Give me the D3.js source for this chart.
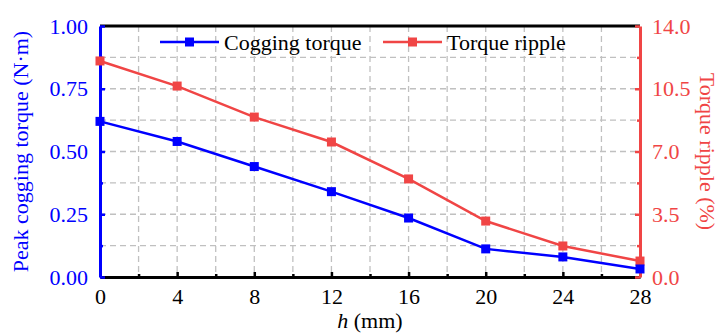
<!DOCTYPE html>
<html>
<head>
<meta charset="utf-8">
<script src="https://cdn.jsdelivr.net/npm/d3@7"></script>
<style>
  body { margin: 0; background: #fff; }
  svg text { font-family: "Liberation Serif", "DejaVu Serif", "Times New Roman", serif !important; }
</style>
</head>
<body>
<div id="chart"></div>
<script>
const hValues = [0, 4, 8, 12, 16, 20, 24, 28];
const coggingTorque = [0.62, 0.54, 0.44, 0.34, 0.235, 0.112, 0.08, 0.032];
const torqueRipple = [12.05, 10.65, 8.92, 7.53, 5.47, 3.12, 1.73, 0.89];
const leftTicks = [0, 0.25, 0.5, 0.75, 1.0];
const rightTicks = [0, 3.5, 7, 10.5, 14];

const BLUE = "#0000ff";
const RED = "#f04545";
const FONT = "'Liberation Serif', 'DejaVu Serif', 'Times New Roman', serif";
const FS = 22;
const width = 721, height = 333;
const margin = { top: 26, right: 81, bottom: 56, left: 100 };
const plotW = width - margin.left - margin.right;
const plotH = height - margin.top - margin.bottom;

const svg = d3.select("#chart").append("svg").attr("width", width).attr("height", height)
  .attr("font-family", FONT);
const g = svg.append("g").attr("transform", "translate(" + margin.left + "," + margin.top + ")");

const x = d3.scaleLinear().domain([0, 28]).range([0, plotW]);
const yL = d3.scaleLinear().domain([0, 1]).range([plotH, 0]);
const yR = d3.scaleLinear().domain([0, 14]).range([plotH, 0]);

// dashed grid (major + minor)
const gridX = d3.range(2, 28, 2);
const gridY = d3.range(0.125, 1, 0.125);
g.append("g").selectAll("line").data(gridX).enter().append("line")
  .attr("x1", d => x(d)).attr("x2", d => x(d)).attr("y1", 0).attr("y2", plotH)
  .attr("stroke", "#c0c0c0").attr("stroke-width", 1.3).attr("stroke-dasharray", "6,4");
g.append("g").selectAll("line").data(gridY).enter().append("line")
  .attr("y1", d => yL(d)).attr("y2", d => yL(d)).attr("x1", 0).attr("x2", plotW)
  .attr("stroke", "#c0c0c0").attr("stroke-width", 1.3).attr("stroke-dasharray", "6,4");

// top frame line
g.append("line").attr("x1", 0).attr("x2", plotW).attr("y1", 0).attr("y2", 0)
  .attr("stroke", "#000").attr("stroke-width", 3);

function styleAxis(sel, color) {
  sel.attr("font-family", FONT).attr("font-size", FS);
  sel.select(".domain").attr("stroke", color).attr("stroke-width", 3);
  sel.selectAll(".tick line").attr("stroke", color).attr("stroke-width", 2.5);
  sel.selectAll(".tick text").attr("fill", color);
}

// minor ticks
const minorX = g.append("g").attr("transform", "translate(0," + plotH + ")")
  .call(d3.axisBottom(x).tickValues(d3.range(2, 28, 4)).tickSize(-3).tickFormat(""));
minorX.select(".domain").remove();
minorX.selectAll(".tick line").attr("stroke", "#000").attr("stroke-width", 2.5);
const minorL = g.append("g").call(d3.axisLeft(yL).tickValues(d3.range(0.125, 1, 0.25)).tickSize(-3).tickFormat(""));
minorL.select(".domain").remove();
minorL.selectAll(".tick line").attr("stroke", BLUE).attr("stroke-width", 2.5);
const minorR = g.append("g").attr("transform", "translate(" + plotW + ",0)")
  .call(d3.axisRight(yR).tickValues(d3.range(1.75, 14, 3.5)).tickSize(-3).tickFormat(""));
minorR.select(".domain").remove();
minorR.selectAll(".tick line").attr("stroke", RED).attr("stroke-width", 2.5);

const xAxis = g.append("g").attr("transform", "translate(0," + plotH + ")")
  .call(d3.axisBottom(x).tickValues(hValues).tickSize(-5).tickPadding(11).tickSizeOuter(0));
styleAxis(xAxis, "#000");

const leftAxis = g.append("g")
  .call(d3.axisLeft(yL).tickValues(leftTicks).tickSize(-5).tickPadding(12).tickSizeOuter(0).tickFormat(d3.format(".2f")));
styleAxis(leftAxis, BLUE);

const rightAxis = g.append("g").attr("transform", "translate(" + plotW + ",0)")
  .call(d3.axisRight(yR).tickValues(rightTicks).tickSize(-5).tickPadding(12).tickSizeOuter(0).tickFormat(d3.format(".1f")));
styleAxis(rightAxis, RED);

// series
function drawSeries(values, yScale, color) {
  const pts = hValues.map((h, i) => [x(h), yScale(values[i])]);
  g.append("path").datum(pts).attr("d", d3.line())
    .attr("fill", "none").attr("stroke", color).attr("stroke-width", 2.5);
  g.append("g").selectAll("rect").data(pts).enter().append("rect")
    .attr("x", d => d[0] - 4.5).attr("y", d => d[1] - 4.5)
    .attr("width", 9).attr("height", 9).attr("fill", color);
}
drawSeries(torqueRipple, yR, RED);
drawSeries(coggingTorque, yL, BLUE);

// legend
const legendItems = [
  { label: "Cogging torque", color: BLUE, x0: 60 },
  { label: "Torque ripple", color: RED, x0: 283 }
];
const legend = g.append("g").attr("transform", "translate(0,16)");
legendItems.forEach(function (item) {
  legend.append("line").attr("x1", item.x0).attr("x2", item.x0 + 59).attr("y1", 0).attr("y2", 0)
    .attr("stroke", item.color).attr("stroke-width", 2.5);
  legend.append("rect").attr("x", item.x0 + 25).attr("y", -4.5).attr("width", 9).attr("height", 9)
    .attr("fill", item.color);
  legend.append("text").attr("x", item.x0 + 64).attr("y", 8).attr("fill", "#000")
    .attr("font-size", FS).text(item.label);
});

// axis titles
svg.append("text")
  .attr("transform", "translate(28," + (margin.top + plotH / 2) + ") rotate(-90)")
  .attr("text-anchor", "middle").attr("fill", BLUE).attr("font-size", FS)
  .text("Peak cogging torque (N·m)");
svg.append("text")
  .attr("transform", "translate(700," + (margin.top + plotH / 2) + ") rotate(90)")
  .attr("text-anchor", "middle").attr("fill", RED).attr("font-size", FS)
  .text("Torque ripple (%)");
const xt = svg.append("text").attr("x", margin.left + plotW / 2).attr("y", 328)
  .attr("text-anchor", "middle").attr("fill", "#000").attr("font-size", FS);
xt.append("tspan").attr("font-style", "italic").text("h");
xt.append("tspan").text(" (mm)");
</script>
</body>
</html>
